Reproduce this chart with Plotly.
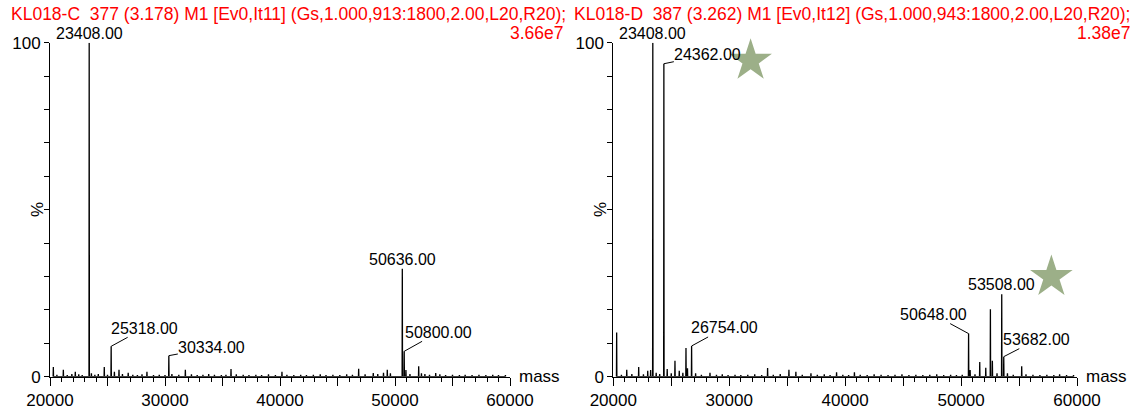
import plotly.graph_objects as go

# ---------------- data ----------------
# Left spectrum: KL018-C  (mass, % intensity)
left_mass = [20290, 20600, 21160, 21500, 21900, 22200, 22500, 22800, 23408, 23600,
             23900, 24200, 24720, 25000, 25318, 25600, 26000, 26300, 26800, 27200,
             27600, 28000, 28430, 29000, 29500, 30000, 30334, 30600, 31200, 31770,
             32300, 32800, 33300, 33800, 34300, 34900, 35300, 35740, 36200, 36800,
             37300, 37900, 38400, 39000, 39600, 40170, 40600, 41200, 41800, 42300,
             42900, 43500, 44000, 44600, 45200, 45800, 46300, 46840, 47400, 48110,
             48500, 49000, 49330, 49600, 50636, 50800, 50950, 51300, 52060, 52300,
             52600, 53000, 53540, 53900, 54400, 55000, 55600, 56100, 56700, 57300,
             57900, 58500, 59000, 59600]
left_int = [2.9, 0.6, 2.1, 0.5, 0.8, 1.5, 0.7, 0.5, 100.0, 1.0,
            0.6, 0.8, 2.9, 0.6, 9.1, 1.5, 2.1, 0.8, 1.2, 0.6,
            0.5, 0.7, 1.5, 0.5, 0.6, 0.5, 6.3, 0.8, 0.6, 2.1,
            0.7, 0.5, 0.6, 0.8, 0.6, 0.5, 0.6, 2.3, 0.7, 0.6,
            0.5, 0.6, 0.5, 0.7, 0.5, 1.5, 0.6, 0.5, 0.6, 0.5,
            0.6, 0.7, 0.5, 0.6, 0.5, 0.7, 0.6, 2.4, 0.7, 1.1,
            0.8, 1.2, 2.1, 1.0, 32.3, 7.6, 2.0, 0.8, 3.1, 1.0,
            0.8, 0.6, 1.1, 0.7, 0.5, 0.6, 0.5, 0.6, 0.5, 0.6,
            0.5, 0.6, 0.5, 0.5]

# Right spectrum: KL018-D
right_mass = [20290, 20700, 21160, 21600, 22190, 22600, 22970, 23220, 23408, 23700,
              24000, 24362, 24650, 25000, 25320, 25690, 26000, 26270, 26400, 26754,
              27100, 27600, 28340, 28900, 29400, 29900, 30500, 31000, 31600, 32200,
              32800, 33310, 33800, 34400, 35150, 35750, 36300, 37050, 37600, 38200,
              38700, 39260, 39800, 40300, 40800, 41300, 41900, 42500, 43100, 43700,
              44300, 44900, 45500, 46100, 46700, 47300, 47900, 48500, 49100, 49600,
              50100, 50648, 50780, 51200, 51610, 52130, 52530, 52700, 53100, 53508,
              53682, 54000, 54500, 55230, 55600, 56200, 56800, 57400, 58000, 58500,
              59100, 59700]
right_int = [13.2, 0.6, 2.1, 0.8, 2.9, 0.7, 1.8, 2.0, 100.0, 1.2,
             0.8, 93.7, 2.3, 1.0, 4.8, 1.8, 1.2, 8.6, 2.5, 9.2,
             1.0, 0.6, 1.2, 0.6, 0.7, 0.5, 0.6, 0.5, 0.6, 0.7,
             0.5, 2.6, 0.6, 0.8, 2.1, 1.5, 0.6, 1.0, 0.6, 0.7,
             0.5, 1.3, 0.6, 0.5, 1.3, 0.6, 0.5, 0.7, 0.6, 0.5,
             0.6, 0.7, 0.5, 0.6, 0.5, 0.6, 0.7, 0.5, 0.6, 0.5,
             0.6, 12.9, 2.0, 0.7, 4.4, 2.7, 20.2, 4.8, 1.0, 24.7,
             6.0, 1.0, 0.6, 3.1, 0.7, 0.6, 0.5, 0.6, 0.5, 0.7,
             0.5, 0.5]

left_labels = [23408, 25318, 30334, 50636, 50800]
right_labels = [23408, 24362, 26754, 50648, 53508, 53682]

left_title = "KL018-C  377 (3.178) M1 [Ev0,It11] (Gs,1.000,913:1800,2.00,L20,R20);"
right_title = "KL018-D  387 (3.262) M1 [Ev0,It12] (Gs,1.000,943:1800,2.00,L20,R20);"
left_scale = "3.66e7"
right_scale = "1.38e7"

star_mass = [31845, 57790]
star_int = [94.6, 29.9]

x_ticks = [20000, 25000, 30000, 35000, 40000, 45000, 50000, 55000, 60000]
y_ticks = [0, 10, 20, 30, 40, 50, 60, 70, 80, 90, 100]

# ---------------- styles / layout ----------------
FONT = "Arial, Liberation Sans, sans-serif"
W, H = 1147, 410
# label offsets (pixels) for each labelled peak: (ax, ay) or None for straight above
left_offsets = [None, (33, -18), (43, -8), None, (34, -19)]
right_offsets = [None, (44, -9), (33, -18), (-35, -19), None, (33, -17)]


def sticks(mass, inten, half=18):
    xs, ys = [], []
    for m, h in zip(mass, inten):
        xs += [m - half, m, m + half]
        ys += [0, h, 0]
    return xs, ys


fig = go.Figure()

for mass, inten, xa, ya in [(left_mass, left_int, "x", "y"),
                            (right_mass, right_int, "x2", "y2")]:
    xs, ys = sticks(mass, inten)
    fig.add_trace(go.Scatter(x=xs, y=ys, mode="lines", xaxis=xa, yaxis=ya,
                             line=dict(color="black", width=1.3),
                             cliponaxis=False, showlegend=False, hoverinfo="skip"))

fig.add_trace(go.Scatter(x=star_mass, y=star_int, mode="markers", xaxis="x2", yaxis="y2",
                         marker=dict(symbol="star", size=32, color="#9caf88",
                                     line=dict(width=0)),
                         cliponaxis=False, showlegend=False, hoverinfo="skip"))

annotations = []


def add_labels(labels, offsets, mass, inten, xref, yref):
    for lab, off in zip(labels, offsets):
        h = inten[mass.index(lab)]
        txt = f"{lab:.2f}"
        if off is None:
            annotations.append(dict(x=lab, y=h, xref=xref, yref=yref, text=txt,
                                    showarrow=False, xanchor="center", yanchor="middle",
                                    yshift=9.5, font=dict(family=FONT, size=16, color="black")))
        else:
            annotations.append(dict(x=lab, y=h, xref=xref, yref=yref, text=txt,
                                    showarrow=True, arrowhead=0, arrowwidth=1,
                                    arrowcolor="black", ax=off[0], ay=off[1],
                                    borderpad=0,
                                    font=dict(family=FONT, size=16, color="black")))


add_labels(left_labels, left_offsets, left_mass, left_int, "x", "y")
add_labels(right_labels, right_offsets, right_mass, right_int, "x2", "y2")

RED = "#ff0000"
# titles
annotations += [
    dict(x=9 / W, y=(H - 14) / H, xref="paper", yref="paper", text=left_title,
         showarrow=False, xanchor="left", yanchor="middle",
         font=dict(family=FONT, size=17.5, color=RED)),
    dict(x=566 / W, y=(H - 33) / H, xref="paper", yref="paper", text=left_scale,
         showarrow=False, xanchor="right", yanchor="middle",
         font=dict(family=FONT, size=17.5, color=RED)),
    dict(x=572 / W, y=(H - 14) / H, xref="paper", yref="paper", text=right_title,
         showarrow=False, xanchor="left", yanchor="middle",
         font=dict(family=FONT, size=17.5, color=RED)),
    dict(x=1133 / W, y=(H - 33) / H, xref="paper", yref="paper", text=right_scale,
         showarrow=False, xanchor="right", yanchor="middle",
         font=dict(family=FONT, size=17.5, color=RED)),
]
# axis titles
for xr, yr, px in [("x", "y", 37), ("x2", "y2", 600)]:
    annotations.append(dict(x=60000, y=0, xref=xr, yref=yr, text="mass", showarrow=False,
                            xanchor="left", yanchor="middle", xshift=7,
                            font=dict(family=FONT, size=17, color="black")))
    annotations.append(dict(x=px / W, y=(H - 210) / H, xref="paper", yref="paper", text="%",
                            showarrow=False, textangle=-90, xanchor="center", yanchor="middle",
                            font=dict(family=FONT, size=17, color="black")))

x_text = [str(v) if v % 10000 == 0 else "" for v in x_ticks]
y_text = [str(v) if v in (0, 100) else "" for v in y_ticks]

xcommon = dict(range=[20000, 60000], showgrid=False, zeroline=False, showline=True,
               automargin=False,
               linecolor="black", linewidth=1, ticks="outside", ticklen=8, tickwidth=1,
               tickcolor="black", tickvals=x_ticks, ticktext=x_text,
               tickfont=dict(family=FONT, size=17, color="black"),
               minor=dict(dtick=1000, ticklen=4, tickwidth=1, tickcolor="black",
                          ticks="outside", showgrid=False))
ycommon = dict(range=[0, 100], showgrid=False, zeroline=False, showline=True,
               automargin=False,
               linecolor="black", linewidth=1, ticks="outside", ticklen=5, tickwidth=1,
               tickcolor="black", tickvals=y_ticks, ticktext=y_text,
               tickfont=dict(family=FONT, size=17, color="black"))

y0 = (H - 376.7) / H
y1 = (H - 42.7) / H

fig.update_layout(
    template="none",
    width=W, height=H,
    margin=dict(l=0, r=0, t=0, b=0, pad=0, autoexpand=False),
    paper_bgcolor="white", plot_bgcolor="white",
    xaxis=dict(domain=[50 / W, 510 / W], anchor="y", **xcommon),
    yaxis=dict(domain=[y0, y1], anchor="x", **ycommon),
    xaxis2=dict(domain=[613.3 / W, 1077 / W], anchor="y2", **xcommon),
    yaxis2=dict(domain=[y0, y1], anchor="x2", **ycommon),
    annotations=annotations,
    showlegend=False,
)

fig.write_html("out.html")
